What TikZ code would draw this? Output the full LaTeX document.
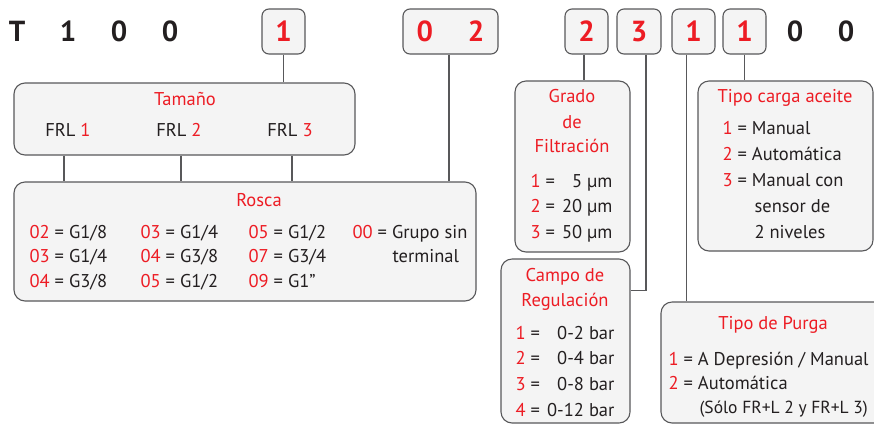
\documentclass[tikz,border=0pt]{standalone}
\usepackage{fontspec}
\setmainfont{PT Sans}
\usepackage{xcolor}
\definecolor{signal}{HTML}{ED1C24}
\definecolor{ink}{HTML}{231F20}
\definecolor{panelfill}{HTML}{F4F4F4}
\definecolor{frame}{HTML}{58585A}
\usepackage{tikz}
\usetikzlibrary{positioning,calc}
\newcommand{\bodyfont}{\fontsize{18.5}{22}\selectfont}
\newcommand{\headfont}{\fontsize{29}{30}\selectfont\bfseries}
\newcommand{\rd}[1]{\textcolor{signal}{#1}}
\newcommand{\eq}{\hspace{5pt}=\hspace{5pt}}
\tikzset{
  every picture/.style={x=1pt, y=-1pt, line width=1.1pt},
  every node/.append style={inner sep=0pt, text=ink},
  panel/.style={draw=frame, fill=panelfill, rounded corners=11pt},
  digit/.style={draw=frame, fill=panelfill, rounded corners=7pt, minimum width=#1, minimum height=45pt, font=\headfont, text=signal},
  digit/.default=43pt,
  wire/.style={draw=frame},
  ttl/.style={font=\bodyfont, text=signal, anchor=base},
  txt/.style={font=\bodyfont, anchor=base west},
  val/.style={font=\bodyfont, anchor=base east},
}

\begin{document}
\begin{tikzpicture}
  \useasboundingbox (0,0) rectangle (874,424);
  \clip (0,0) rectangle (874,424);

  % code row
  \foreach \name/\x/\ch in {t/17/T, a/68/1, b/119/0, c/170/0, y/795/0, z/846/0}
    \node[font=\headfont] (h\name) at (\x,31.5) {\ch};
  \node[digit] (d1) at (283.5,31.5) {1};
  \node[digit=95pt] (d02) at (450.5,31.5) {0\hspace{35pt}2};
  \node[digit] (d2) at (586.5,31.5) {2};
  \node[digit=44pt] (d3) at (639,31.5) {3};
  \node[digit] (d4) at (693.5,31.5) {1};
  \node[digit] (d5) at (744.5,31.5) {1};

  % panels
  \node[panel, minimum width=341pt, minimum height=72pt] (tam) at (184.5,119) {};
  \node[panel, minimum width=462pt, minimum height=119pt] (rosca) at (245,241.5) {};
  \node[panel, minimum width=115pt, minimum height=171pt] (grado) at (572.5,166.5) {};
  \node[panel, minimum width=129pt, minimum height=164pt] (campo) at (565.5,341) {};
  \node[panel, minimum width=175pt, minimum height=170pt] (carga) at (785.5,166) {};
  \node[panel, minimum width=229pt, minimum height=121pt] (purga) at (775.5,362.5) {};

  % Tamaño
  \node[ttl] (tamt) at (185,105.5) {Tamaño};
  \foreach \i/\x in {1/68, 2/179, 3/290}
    \node[font=\bodyfont, anchor=base] (f\i) at (\x,136.5) {FRL \rd{\i}};

  % Rosca
  \node[ttl] (roscat) at (259,206.5) {Rosca};
  \foreach \x/\y/\k/\v in {29/238.5/02/{G1/8}, 29/262.5/03/{G1/4}, 29/287.5/04/{G3/8},
      140/238.5/03/{G1/4}, 140/262.5/04/{G3/8}, 140/287.5/05/{G1/2},
      248/238.5/05/{G1/2}, 248/262.5/07/{G3/4}, 248/287.5/09/{G1\symbol{34}},
      352/238.5/00/{Grupo sin}}
    \node[txt] (r\k\x) at (\x,\y) {\rd{\k}\eq\v};
  \node[txt] (rterm) at (392,262.5) {terminal};

  % Grado de Filtración
  \foreach \t/\y [count=\i] in {Grado/102.5, de/128.5, Filtración/152.5}
    \node[ttl] (gt\i) at (572,\y) {\t};
  \foreach \k/\v/\y in {1/5/187.5, 2/20/212.5, 3/50/238.5} {
    \node[txt] (gk\k) at (530,\y) {\rd{\k}\eq};
    \node[val] (gv\k) at (613,\y) {\v\ µm};
  }

  % Campo de Regulación
  \node[ttl] (ct1) at (565,281.5) {Campo de};
  \node[ttl] (ct2) at (565,306) {Regulación};
  \foreach \k/\v/\y in {1/0-2/339.5, 2/0-4/364.5, 3/0-8/390.5, 4/0-12/416.5} {
    \node[txt] (ck\k) at (515,\y) {\rd{\k}\eq};
    \node[val] (cv\k) at (615,\y) {\v\ bar};
  }

  % Tipo carga aceite
  \node[ttl] (kt) at (785,102) {Tipo carga aceite};
  \node[txt] (k1) at (722,134.5) {\rd{1}\eq Manual};
  \node[txt] (k2) at (722,160.5) {\rd{2}\eq Automática};
  \node[txt] (k3) at (722,186.5) {\rd{3}\eq Manual con};
  \node[txt] (k4) at (754,212.5) {sensor de};
  \node[txt] (k5) at (754,238.5) {2 niveles};

  % Tipo de Purga
  \node[ttl] (pt) at (773,329) {Tipo de Purga};
  \node[txt] (p1) at (668,365) {\rd{1}\eq A Depresión / Manual};
  \node[txt] (p2) at (668,389) {\rd{2}\eq Automática};
  \node[txt, font=\fontsize{17.5}{22}\selectfont] (p3) at (699,413.5) {(Sólo FR+L 2 y FR+L 3)};

  % connectors
  \draw[wire] (d1.south) -- (d1.south |- tam.north);
  \draw[wire] ([xshift=-1.5pt]d02.south) -- ([xshift=-1.5pt]d02.south |- rosca.north);
  \draw[wire] ([xshift=-2.5pt]d2.south) -- ([xshift=-2.5pt]d2.south |- grado.north);
  \draw[wire] ([xshift=7pt]d3.south) |- ([yshift=-32pt]campo.north east);
  \draw[wire] ([xshift=-7pt]d4.south) -- ([xshift=-7pt]d4.south |- purga.north);
  \draw[wire] (d5.south) -- (d5.south |- carga.north);
  \foreach \i/\dx in {1/-4, 2/2, 3/2}
    \draw[wire] ([xshift=\dx pt]f\i |- tam.south) -- ([xshift=\dx pt]f\i |- rosca.north);
\end{tikzpicture}
\end{document}
